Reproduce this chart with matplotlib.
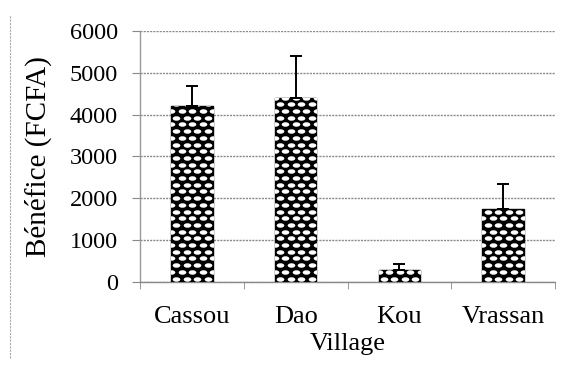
import matplotlib
matplotlib.use("Agg")
import matplotlib.pyplot as plt
from matplotlib.lines import Line2D
from matplotlib.path import Path
from matplotlib.transforms import Affine2D
import numpy as np

villages = ["Cassou", "Dao", "Kou", "Vrassan"]
benefice = [4200, 4400, 280, 1750]
erreur = [480, 1000, 150, 600]
yticks = [0, 1000, 2000, 3000, 4000, 5000, 6000]

plt.rcParams['font.family'] = ['Liberation Serif', 'DejaVu Serif']

fig = plt.figure(figsize=(5.67, 3.69), dpi=100)
ax = fig.add_axes([0.247, 0.236, 0.732, 0.680])

ax.set_xlim(-0.5, 3.5)
ax.set_ylim(0, 6000)

x = np.arange(len(villages))
bars = ax.bar(x, benefice, width=0.4, color='black', edgecolor='black', linewidth=1.0, zorder=3)
ax.errorbar(x, benefice, yerr=[np.zeros(len(erreur)), erreur], fmt='none', ecolor='black',
            elinewidth=1.4, capsize=4.5, capthick=1.4, zorder=5)

# oval texture inside each bar (white ellipses on black), clipped to the bar
oval = Path.unit_circle().transformed(Affine2D().scale(1.7, 1.0))
fig.canvas.draw()
inv = ax.transData.inverted()
dx, dy = 10.5, 6.7  # pixel spacing of the texture
for b in bars:
    x0, y0 = ax.transData.transform((b.get_x(), 0))
    x1, y1 = ax.transData.transform((b.get_x() + b.get_width(), b.get_height()))
    pts = []
    rows = np.arange(y0 + dy / 2, y1 + dy, dy)
    for i, yy in enumerate(rows):
        off = 0 if i % 2 == 0 else dx / 2
        for xx in np.arange(x0 + dx / 2 - off, x1 + dx, dx):
            pts.append((xx, yy))
    pts = inv.transform(np.array(pts))
    sc = ax.scatter(pts[:, 0], pts[:, 1], marker=oval, s=(7.6 * 0.72) ** 2,
                    c='white', linewidths=0, zorder=4)
    sc.set_clip_path(b)

ax.set_yticks(yticks)
ax.set_yticklabels([str(v) for v in yticks], fontsize=17.5)
ax.set_xticks(x)
ax.set_xticklabels(villages, fontsize=19)
ax.set_xticks(np.arange(-0.5, 4.0, 1.0), minor=True)
ax.tick_params(axis='x', which='major', length=0, pad=17)
ax.tick_params(axis='x', which='minor', length=5, color='#888888', direction='out')
ax.tick_params(axis='y', length=6, color='#888888', pad=10)

ax.yaxis.grid(True, color='#8a8a8a', linestyle=(0, (1.5, 0.8)), linewidth=1.0, zorder=0)
ax.set_axisbelow(True)
for s in ['top', 'right']:
    ax.spines[s].set_visible(False)
ax.spines['left'].set_color('#999999')
ax.spines['bottom'].set_color('#888888')
ax.spines['left'].set_linewidth(1.0)
ax.spines['bottom'].set_linewidth(1.0)

ax.set_ylabel("Bénéfice (FCFA)", fontsize=21, labelpad=13)
ax.set_xlabel("Village", fontsize=19, labelpad=4)

fig.add_artist(Line2D([0.018, 0.018], [0.03, 0.96], color='#aaaaaa', lw=0.8, linestyle=(0, (2, 1))))

fig.savefig("out.png", dpi=100, facecolor='white')
